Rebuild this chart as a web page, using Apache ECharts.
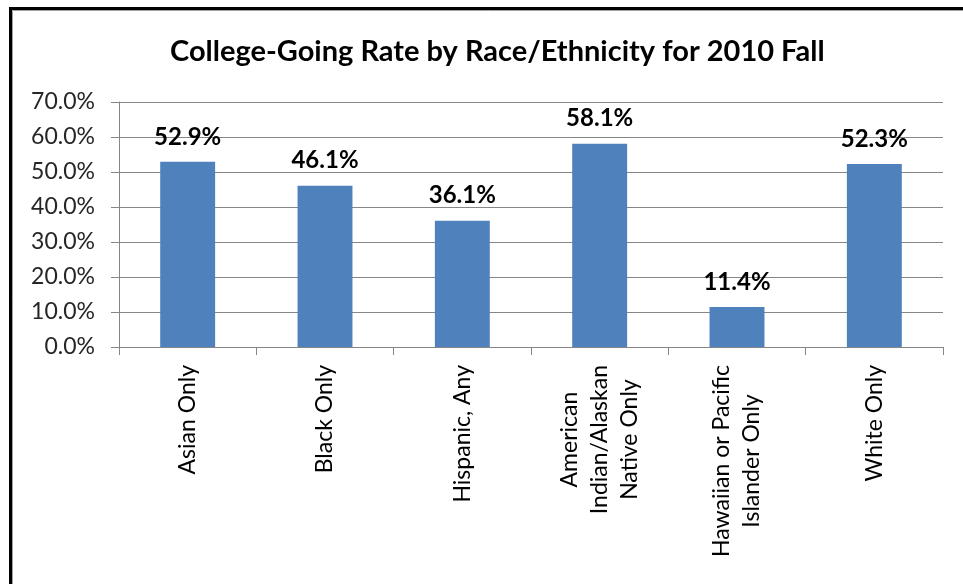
<!DOCTYPE html>
<html>
<head>
<meta charset="utf-8">
<script src="https://cdn.jsdelivr.net/npm/echarts@6/dist/echarts.min.js"></script>
<style>
html,body{margin:0;padding:0;background:#fff;}
#chart{width:963px;height:584px;}
</style>
</head>
<body>
<div id="chart"></div>
<script>
const titleText = 'College-Going Rate by Race/Ethnicity for 2010 Fall';
const categories = [
  'Asian Only',
  'Black Only',
  'Hispanic, Any',
  'American\nIndian/Alaskan\nNative Only',
  'Hawaiian or Pacific\nIslander Only',
  'White Only'
];
const rates = [52.9, 46.1, 36.1, 58.1, 11.4, 52.3];
const yMin = 0, yMax = 70, yStep = 10;

const FONT = 'Lato';
const chart = echarts.init(document.getElementById('chart'));
chart.setOption({
  backgroundColor: '#ffffff',
  animation: false,
  title: {
    text: titleText,
    left: 165,
    top: 32,
    textStyle: { fontFamily: FONT, fontWeight: 'bold', fontSize: 29, color: '#000' }
  },
  grid: { left: 119, right: 20, top: 102, bottom: 237, containLabel: false },
  graphic: [
    { type: 'rect', shape: { x: 10.5, y: 8.5, width: 1000, height: 700 }, style: { fill: 'none', stroke: '#000', lineWidth: 3 }, silent: true },
    { type: 'rect', shape: { x: 12.5, y: 10.5, width: 1000, height: 700 }, style: { fill: 'none', stroke: '#a0a0a0', lineWidth: 1 }, silent: true }
  ],
  xAxis: {
    type: 'category',
    data: categories,
    axisLine: { show: true, lineStyle: { color: '#868686', width: 1 } },
    axisTick: { show: true, length: 8, lineStyle: { color: '#868686' } },
    axisLabel: {
      rotate: 90,
      margin: 18,
      interval: 0,
      fontFamily: FONT,
      fontSize: 23,
      color: '#000',
      lineHeight: 30,
      formatter: function (v) {
        return v.split('\n').map(function (s) { return '{c|' + s + '}'; }).join('\n');
      },
      rich: { c: { align: 'center', fontFamily: FONT, fontSize: 23, color: '#000', lineHeight: 30 } }
    }
  },
  yAxis: {
    type: 'value',
    min: yMin, max: yMax, interval: yStep,
    axisLine: { show: true, lineStyle: { color: '#868686', width: 1 } },
    axisTick: { show: true, length: 8, lineStyle: { color: '#868686' } },
    splitLine: { show: true, lineStyle: { color: '#868686', width: 1 } },
    axisLabel: {
      margin: 24,
      fontFamily: FONT,
      fontSize: 23,
      color: '#262626',
      formatter: function (v) { return v.toFixed(1) + '%'; }
    }
  },
  series: [{
    type: 'bar',
    data: rates,
    barCategoryGap: '60%',
    itemStyle: { color: '#4F81BD' },
    label: {
      show: true,
      position: 'top',
      distance: 13,
      fontFamily: FONT,
      fontWeight: 'bold',
      fontSize: 24,
      color: '#000',
      formatter: function (p) { return p.value.toFixed(1) + '%'; }
    }
  }]
});
</script>
</body>
</html>
